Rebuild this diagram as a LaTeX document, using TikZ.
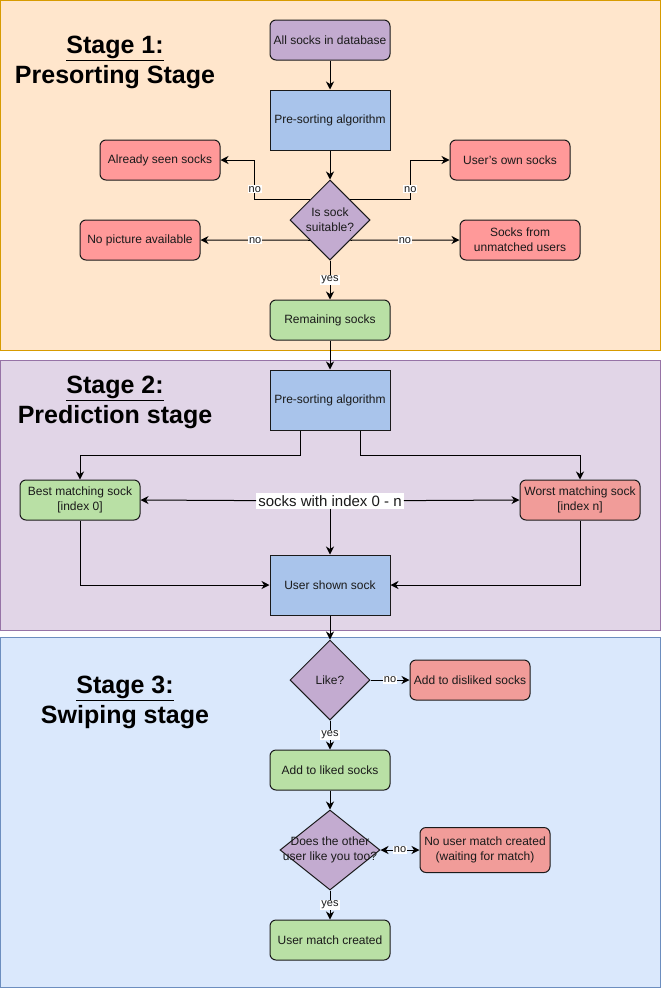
\documentclass[tikz,border=0pt]{standalone}
\usepackage{fontspec}
\setmainfont{Liberation Sans}
\usetikzlibrary{shapes.geometric,arrows.meta}
\definecolor{bgA}{HTML}{FFE6CC}\definecolor{bdA}{HTML}{D79B00}
\definecolor{bgB}{HTML}{E1D5E7}\definecolor{bdB}{HTML}{9673A6}
\definecolor{bgC}{HTML}{DAE8FC}\definecolor{bdC}{HTML}{6C8EBF}
\definecolor{cpur}{HTML}{C3ABD0}\definecolor{cblue}{HTML}{A9C4EB}
\definecolor{cgreen}{HTML}{B9E0A5}\definecolor{cred}{HTML}{FF9999}
\definecolor{cred2}{HTML}{F19C99}\definecolor{ink}{HTML}{1A1A1A}
\tikzset{
  box/.style={draw=ink, line width=1pt, minimum width=120pt, minimum height=40pt, inner sep=2pt, align=center, text=ink, font=\fontsize{12}{15}\selectfont},
  rbox/.style={box, rounded corners=6pt},
  dia/.style={diamond, aspect=1, draw=ink, line width=1pt, inner sep=0pt, minimum width=80pt, minimum height=80pt, fill=cpur},
  diatext/.style={align=center, text=ink, font=\fontsize{12}{15}\selectfont, inner sep=0pt},
  lab/.style={fill=white, inner sep=1pt, text=ink, font=\fontsize{11}{12}\selectfont},
  tip/.tip={Stealth[length=8pt,width=8pt,inset=2.5pt]},
  arr/.style={-tip, line width=1pt, draw=black},
  title/.style={align=center, font=\bfseries\fontsize{25}{30}\selectfont, text=black},
  stage/.style={line width=1pt}
}
\begin{document}
\begin{tikzpicture}[x=1pt,y=-1pt]
\useasboundingbox (0,0) rectangle (661,988);
% stage backgrounds
\draw[stage, fill=bgA, draw=bdA] (0.5,0.5) rectangle (660.5,350);
\draw[stage, fill=bgB, draw=bdB] (0.5,360) rectangle (660.5,630);
\draw[stage, fill=bgC, draw=bdC] (0.5,637) rectangle (660.5,987.5);
% titles
\node[title] (t1) at (115,62) {\underline{Stage 1:}\\Presorting Stage};
\node[title] (t2) at (115,402) {\underline{Stage 2:}\\Prediction stage};
\node[title] (t3) at (125,702) {\underline{Stage 3:}\\Swiping stage};
% stage 1
\node[rbox, fill=cpur] (all) at (330,40) {All socks in database};
\node[box, fill=cblue, minimum height=60pt] (pre1) at (330,120) {Pre-sorting algorithm};
\node[rbox, fill=cred] (seen) at (160,160) {Already seen socks};
\node[rbox, fill=cred] (own) at (510,160) {User's own socks};
\node[dia] (d1) at (330,220) {};
\node[diatext] (d1t) at (330,220) {Is sock\\suitable?};
\node[rbox, fill=cred] (nopic) at (140,240) {No picture available};
\node[rbox, fill=cred] (unm) at (520,240) {Socks from\\unmatched users};
\node[rbox, fill=cgreen] (rem) at (330,320) {Remaining socks};
\draw[arr] (all) -- (pre1);
\draw[arr] (pre1) -- (d1);
\draw[arr] (d1.north west) -- ++(-55,0) |- node[lab,pos=0.13]{no} (seen.east);
\draw[arr] (d1.north east) -- ++(60,0) |- node[lab,pos=0.13]{no} (own.west);
\draw[arr] (d1.south west) -- node[lab]{no} (nopic.east);
\draw[arr] (d1.south east) -- node[lab]{no} (unm.west);
\draw[arr] (d1) -- node[lab]{yes} (rem);
% stage 2
\node[box, fill=cblue, minimum height=60pt] (pre2) at (330,400) {Pre-sorting algorithm};
\node[rbox, fill=cgreen] (best) at (80,500) {Best matching sock\\{}[index 0]};
\node[rbox, fill=cred2] (worst) at (580,500) {Worst matching sock\\{}[index n]};
\node[lab, font=\fontsize{15}{17}\selectfont, inner sep=2pt] (idx) at (330,501) {socks with index 0 - n};
\node[box, fill=cblue, minimum height=60pt] (shown) at (330,585) {User shown sock};
\draw[arr] (rem) -- (pre2);
\draw[arr] ([xshift=-30pt]pre2.south) -- ++(0,25) -| (best.north);
\draw[arr] ([xshift=30pt]pre2.south) -- ++(0,25) -| (worst.north);
\draw[arr] (idx) -- (best.east);
\draw[arr] (idx) -- (worst.west);
\draw[arr] (idx) -- (shown);
\draw[arr] (best.south) |- (shown.west);
\draw[arr] (worst.south) |- (shown.east);
% stage 3
\node[dia] (like) at (330,680) {};
\node[diatext] (liket) at (330,680) {Like?};
\node[rbox, fill=cred2] (dis) at (470,680) {Add to disliked socks};
\node[rbox, fill=cgreen] (liked) at (330,770) {Add to liked socks};
\node[dia, minimum width=100pt, aspect=1.25] (d2) at (330,850) {};
\node[diatext] (d2t) at (330,850) {Does the other\\user like you too?};
\node[rbox, fill=cred2, minimum width=130pt, minimum height=45pt] (nom) at (485,850) {No user match created\\(waiting for match)};
\node[rbox, fill=cgreen] (match) at (330,940) {User match created};
\draw[arr] (shown) -- (like);
\draw[arr] (like) -- node[lab]{no} (dis);
\draw[arr] (like) -- node[lab]{yes} (liked);
\draw[arr] (liked) -- (d2);
\draw[arr, tip-tip] (d2.east) -- node[lab]{no} (nom.west);
\draw[arr] (d2) -- node[lab]{yes} (match);
\end{tikzpicture}
\end{document}
